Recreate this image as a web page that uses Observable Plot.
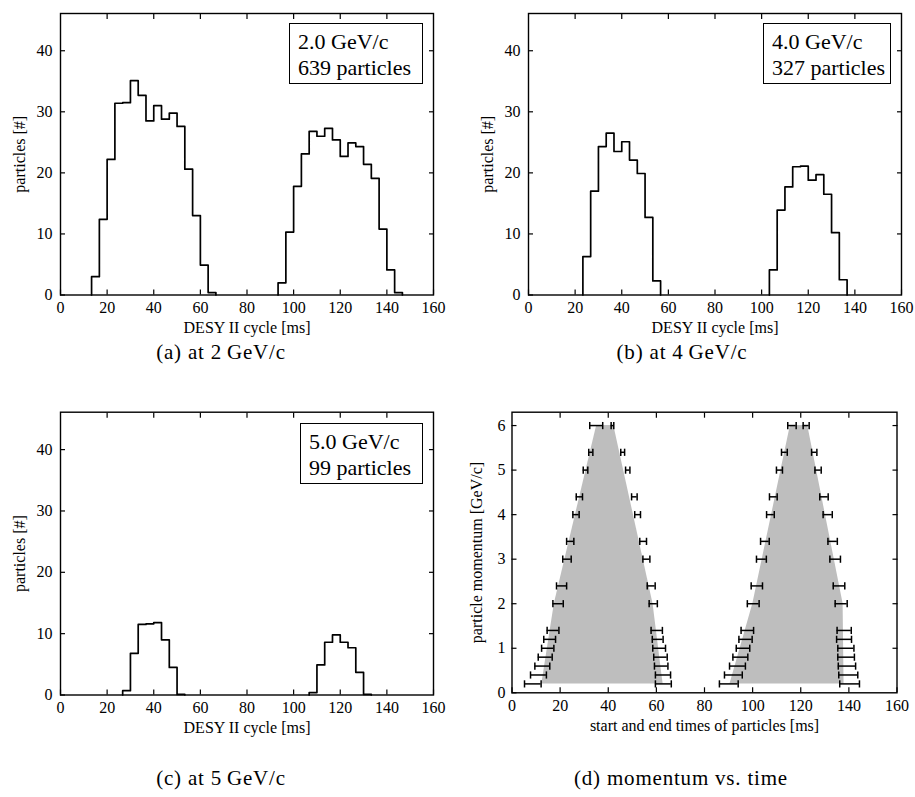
<!DOCTYPE html>
<html><head><meta charset="utf-8">
<script src="https://cdn.jsdelivr.net/npm/d3@7"></script>
<script src="https://cdn.jsdelivr.net/npm/@observablehq/plot@0.6"></script>
<style>
html,body{margin:0;padding:0;background:#fff;}
body{width:915px;height:797px;position:relative;overflow:hidden;font-family:'Liberation Serif',serif;color:#000;}
.panel{position:absolute;}
.legend{position:absolute;box-sizing:border-box;border:1.4px solid #000;background:#fff;font-size:22px;line-height:26px;padding:5px 0 0 8px;white-space:nowrap;}
.caption{position:absolute;font-size:21px;letter-spacing:0.8px;white-space:nowrap;transform:translate(-50%,-50%);}
</style></head><body>
<div id="pa" class="panel" style="left:0;top:0"></div>
<div id="pb" class="panel" style="left:462px;top:0"></div>
<div id="pc" class="panel" style="left:0;top:398px"></div>
<div id="pd" class="panel" style="left:462px;top:398px"></div>
<script>
// ---------- data ----------
const binWidth = 3.333; // ms
// panel (a) 2.0 GeV/c
const aStarts1 = [13.33,16.67,20,23.33,26.67,30,33.33,36.67,40,43.33,46.67,50,53.33,56.67,60,63.33];
const aCounts1 = [3.0,12.4,22.2,31.4,31.5,35.1,32.7,28.5,31.0,28.8,29.8,27.6,20.6,13.0,4.9,0.4];
const aStarts2 = [93.33,96.67,100,103.33,106.67,110,113.33,116.67,120,123.33,126.67,130,133.33,136.67,140,143.33];
const aCounts2 = [2.0,10.3,17.8,23.1,26.8,26.0,27.3,25.4,22.7,24.9,24.3,21.4,19.1,10.8,4.1,0.4];
// panel (b) 4.0 GeV/c
const bStarts1 = [23.33,26.67,30,33.33,36.67,40,43.33,46.67,50,53.33];
const bCounts1 = [6.3,17.0,24.3,26.5,23.5,25.1,22.1,19.9,12.7,2.3];
const bStarts2 = [103.33,106.67,110,113.33,116.67,120,123.33,126.67,130,133.33];
const bCounts2 = [4.1,13.9,17.7,21.0,21.1,18.8,19.7,16.5,10.2,2.5];
// panel (c) 5.0 GeV/c
const cStarts1 = [26.67,30,33.33,36.67,40,43.33,46.67,50];
const cCounts1 = [0.7,6.8,11.5,11.6,11.8,9.0,4.5,0.1];
const cStarts2 = [106.67,110,113.33,116.67,120,123.33,126.67,130];
const cCounts2 = [0.4,4.9,8.6,9.8,8.6,7.7,3.7,0.1];
const legendA = ["2.0 GeV/c", "639 particles"];
const legendB = ["4.0 GeV/c", "327 particles"];
const legendC = ["5.0 GeV/c", "99 particles"];
// panel (d) momentum vs time
const momenta   = [0.2,0.4,0.6,0.8,1.0,1.2,1.4,2.0,2.4,3.0,3.4,4.0,4.4,5.0,5.4,6.0];
const startLo1  = [5.2,7.7,9.5,10.9,12.3,13.2,14.6,17.0,18.5,21.1,22.7,25.3,26.7,29.6,31.9,32.3];
const startHi1  = [12.1,14.3,15.7,16.7,17.4,18.1,19.5,21.3,22.7,24.6,25.7,27.9,29.3,31.5,33.6,37.7];
const endLo1    = [59.6,59.6,59.2,58.9,58.5,58.3,57.8,57.0,56.2,54.4,53.1,51.0,49.7,47.2,45.2,41.2];
const endHi1    = [66.2,65.9,64.8,64.5,63.8,62.8,62.5,60.4,59.5,57.3,55.9,53.4,52.0,49.0,46.8,42.3];
const startLo2  = [86.2,88.3,90.4,91.8,93.2,94.3,95.2,97.8,99.4,101.6,103.3,105.8,107.0,109.9,112.0,114.6];
const startHi2  = [94.0,95.7,97.0,98.0,98.8,99.8,100.4,102.7,104.1,105.7,106.9,109.0,110.2,112.4,114.4,118.1];
const endLo2    = [136.2,135.8,135.6,135.4,135.4,134.9,135.1,134.3,133.5,132.1,131.3,129.3,127.9,125.9,124.5,121.0];
const endHi2    = [144.4,143.7,142.8,142.3,142.1,141.1,141.0,139.3,138.3,136.5,135.2,133.1,131.4,128.5,126.7,123.5];
// grey band (acceleration window) boundary points
const grayP      = [0.2, 2.0, 6.0];
const grayLeft1  = [12.4, 17.6, 35.2];
const grayRight1 = [62.8, 58.6, 42.3];
const grayLeft2  = [90.6, 100.1, 115.7];
const grayRight2 = [138.0, 137.6, 122.9];
const xTicks = [0,20,40,60,80,100,120,140,160];
const yTicksHist = [0,10,20,30,40];
const yTicksMom = [0,1,2,3,4,5,6];

// ---------- helpers ----------
const FAMILY = "'Liberation Serif', serif";
function steps(starts, counts, peak){
  const pts = [{x: starts[0], y: 0, peak}];
  starts.forEach((s,i) => pts.push({x: s, y: counts[i], peak}));
  pts.push({x: starts[starts.length-1] + binWidth, y: 0, peak});
  return pts;
}
const font = {fontFamily: FAMILY, fontSize: "16px", background: "transparent", overflow: "visible"};

function framedAxes(xLabel, yLabel, yTicks, yLabelOffset, yPad){
  const inner = xTicks.slice(1, -1);
  const innerY = yTicks.slice(1);
  return [
    Plot.frame({stroke: "#000", strokeWidth: 1.4}),
    Plot.axisX(xTicks, {anchor: "bottom", tickSize: -5, tickPadding: 12, strokeWidth: 1.2, label: xLabel, labelAnchor: "center", labelOffset: 38, labelArrow: "none"}),
    Plot.axisX(inner, {anchor: "top", tickSize: -5, strokeWidth: 1.2, tickFormat: () => "", label: null}),
    Plot.axisY(yTicks, {anchor: "left", tickSize: -5, tickPadding: yPad, strokeWidth: 1.2, label: yLabel, labelAnchor: "center", labelOffset: yLabelOffset, labelArrow: "none"}),
    Plot.axisY(innerY, {anchor: "right", tickSize: -5, strokeWidth: 1.2, tickFormat: () => "", label: null})
  ];
}

function histPanel(s1, c1, s2, c2, dims){
  const data = steps(s1, c1, "p1").concat(steps(s2, c2, "p2"));
  return Plot.plot({
    width: dims.width, height: dims.height,
    marginLeft: dims.ml, marginRight: dims.mr, marginTop: dims.mt, marginBottom: dims.mb,
    style: font,
    x: {domain: [0, 160]},
    y: {domain: [0, 46.1]},
    marks: [
      Plot.line(data, {x: "x", y: "y", z: "peak", curve: "step-after", stroke: "#000", strokeWidth: 1.7}),
      ...framedAxes("DESY II cycle [ms]", "particles [#]", yTicksHist, 47, 13)
    ]
  });
}

document.getElementById("pa").append(histPanel(aStarts1, aCounts1, aStarts2, aCounts2, {width: 440, height: 345, ml: 60, mr: 7, mt: 13, mb: 50.5}));
document.getElementById("pb").append(histPanel(bStarts1, bCounts1, bStarts2, bCounts2, {width: 445, height: 345, ml: 66, mr: 6, mt: 13, mb: 50.5}));
document.getElementById("pc").append(histPanel(cStarts1, cCounts1, cStarts2, cCounts2, {width: 440, height: 345, ml: 60, mr: 7, mt: 13.7, mb: 48.5}));

// panel d
const bars = [];
const caps = [];
momenta.forEach((p, i) => {
  [[startLo1[i], startHi1[i]], [endLo1[i], endHi1[i]], [startLo2[i], startHi2[i]], [endLo2[i], endHi2[i]]].forEach(([lo, hi]) => {
    bars.push({p, lo, hi});
    caps.push({p, t: lo});
    caps.push({p, t: hi});
  });
});
const gray = [];
grayP.forEach((p, i) => {
  gray.push({p, l: grayLeft1[i], r: grayRight1[i], cyc: 1});
  gray.push({p, l: grayLeft2[i], r: grayRight2[i], cyc: 2});
});
const vbar = {draw(ctx, size){ const h = Math.sqrt(size / Math.PI); ctx.moveTo(0, -h); ctx.lineTo(0, h); }};

document.getElementById("pd").append(Plot.plot({
  width: 445, height: 345,
  marginLeft: 49.5, marginRight: 10.5, marginTop: 13.7, marginBottom: 50.7,
  style: font,
  x: {domain: [0, 160]},
  y: {domain: [0, 6.3]},
  marks: [
    Plot.areaX(gray, {y: "p", x1: "l", x2: "r", z: "cyc", fill: "#bebebe"}),
    Plot.ruleY(bars, {y: "p", x1: "lo", x2: "hi", stroke: "#000", strokeWidth: 1.5}),
    Plot.dot(caps, {x: "t", y: "p", symbol: vbar, r: 3.6, stroke: "#000", strokeWidth: 1.5}),
    ...framedAxes("start and end times of particles [ms]", "particle momentum [GeV/c]", yTicksMom, 41, 11.5)
  ]
}));

// legends
function legend(lines, left, top, w, h){
  const d = document.createElement("div");
  d.className = "legend";
  d.style.fontFamily = FAMILY;
  d.style.left = left + "px"; d.style.top = top + "px"; d.style.width = w + "px"; d.style.height = h + "px";
  d.innerHTML = lines.join("<br>");
  document.body.append(d);
}
legend(legendA, 289, 23, 134, 61);
legend(legendB, 763, 23, 128, 61);
legend(legendC, 300, 423, 123, 61);

// captions
const captions = [
  ["(a) at 2\u2009GeV/c", 221, 352],
  ["(b) at 4\u2009GeV/c", 682, 352],
  ["(c) at 5\u2009GeV/c", 221, 778],
  ["(d) momentum vs. time", 681, 778]
];
captions.forEach(([t, x, y]) => {
  const d = document.createElement("div");
  d.className = "caption";
  d.style.fontFamily = FAMILY;
  d.style.left = x + "px"; d.style.top = y + "px";
  d.textContent = t;
  document.body.append(d);
});
</script>
</body></html>
